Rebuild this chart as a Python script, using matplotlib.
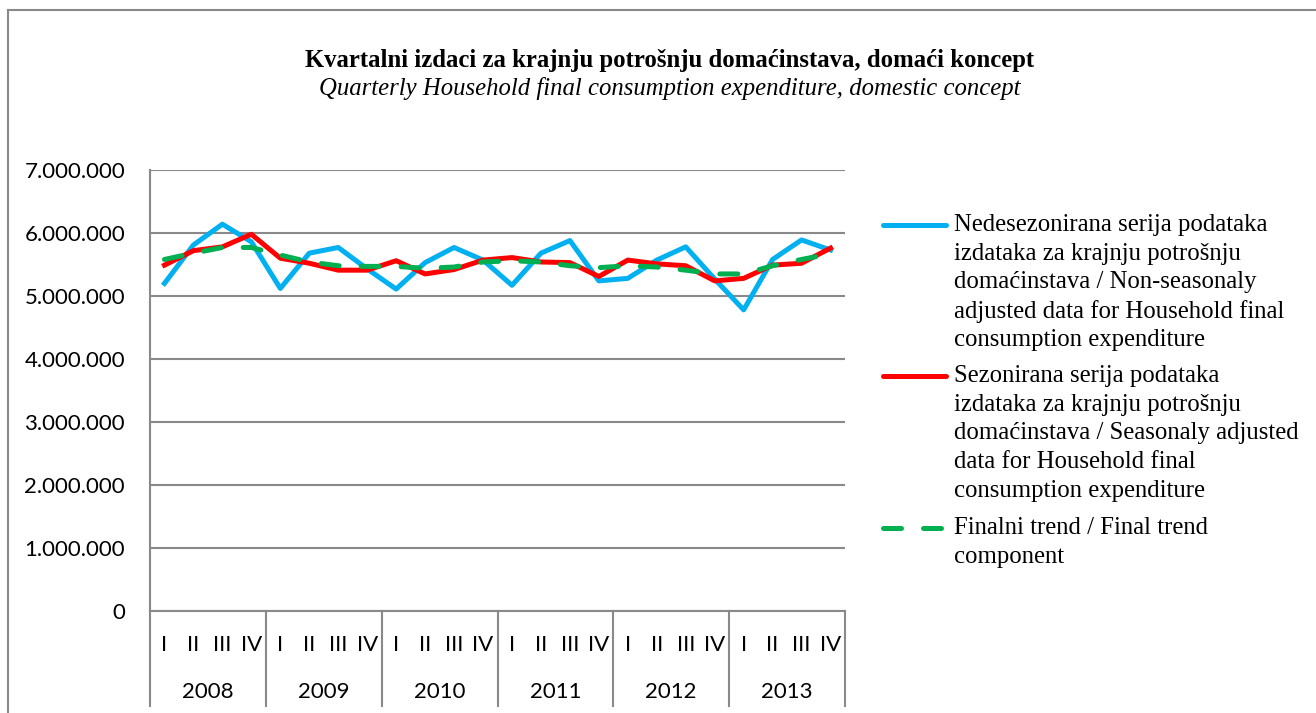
import matplotlib
matplotlib.use("Agg")
import matplotlib.pyplot as plt
from matplotlib.lines import Line2D

# quarterly values
years = ["2008", "2009", "2010", "2011", "2012", "2013"]
quarters = ["I", "II", "III", "IV"]

non_seasonal = [5200000, 5810000, 6140000, 5860000,
                5120000, 5680000, 5770000, 5430000,
                5110000, 5530000, 5770000, 5570000,
                5170000, 5680000, 5880000, 5240000,
                5280000, 5570000, 5780000, 5270000,
                4780000, 5580000, 5890000, 5730000]

seasonal = [5490000, 5720000, 5780000, 5980000,
            5600000, 5520000, 5410000, 5410000,
            5560000, 5350000, 5420000, 5570000,
            5610000, 5540000, 5530000, 5310000,
            5570000, 5510000, 5480000, 5240000,
            5280000, 5490000, 5520000, 5760000]

trend = [5580000, 5680000, 5770000, 5770000,
         5650000, 5540000, 5480000, 5470000,
         5470000, 5440000, 5460000, 5540000,
         5560000, 5540000, 5480000, 5450000,
         5480000, 5460000, 5410000, 5350000,
         5350000, 5480000, 5580000, 5670000]

labels = [["Nedesezonirana serija podataka", "izdataka za krajnju potrošnju",
           "domaćinstava / Non-seasonaly", "adjusted data for Household final",
           "consumption expenditure"],
          ["Sezonirana serija podataka", "izdataka za krajnju potrošnju",
           "domaćinstava / Seasonaly adjusted", "data for Household final",
           "consumption expenditure"],
          ["Finalni trend / Final trend", "component"]]

W, H = 1316, 713
fig = plt.figure(figsize=(W / 100, H / 100), dpi=100)
ax = fig.add_axes([150 / W, (H - 611) / H, 695 / W, 441 / H])

x = list(range(len(non_seasonal)))
grid_c = "#898989"
colors = ["#00B0F0", "#FF0000", "#00B050"]
trend_dash = (3.6, 4.4)

ax.plot(x, non_seasonal, color=colors[0], lw=3.6, solid_joinstyle="round", zorder=3)
ax.plot(x, seasonal, color=colors[1], lw=3.6, solid_joinstyle="round", zorder=4)
ax.plot(x, trend, color=colors[2], lw=3.6, dashes=trend_dash, dash_capstyle="round", zorder=5)

ax.set_xlim(-0.5, len(x) - 0.5)
ax.set_ylim(0, 7000000)
ax.set_yticks(range(0, 7000001, 1000000))
ax.set_yticklabels([f"{v:,}".replace(",", ".") for v in range(0, 7000001, 1000000)],
                   family="Lato", fontsize=16)
ax.tick_params(axis="y", length=0, pad=18)
ax.grid(axis="y", color=grid_c, lw=1.5)
ax.set_axisbelow(True)
for s in ["top", "right"]:
    ax.spines[s].set_visible(False)
ax.spines["left"].set_color(grid_c)
ax.spines["left"].set_linewidth(1.5)
ax.spines["bottom"].set_color(grid_c)
ax.spines["bottom"].set_linewidth(1.5)

# quarter labels + year labels underneath, with group separators
ax.set_xticks(x)
ax.set_xticklabels(quarters * len(years), family="Lato", fontsize=16)
ax.tick_params(axis="x", length=0, pad=17.5)
tr = ax.get_xaxis_transform()
y_bot = -(706 - 611) / 441
for k in range(len(years) + 1):
    ax.add_line(Line2D([k * 4 - 0.5] * 2, [0, y_bot], transform=tr, color=grid_c,
                       lw=1.5, clip_on=False))
for k, yr in enumerate(years):
    ax.text(k * 4 + 1.5, -(692 - 611) / 441, yr, transform=tr, ha="center", va="center",
            family="Lato", fontsize=16)

# titles
fig.text(670 / W, 1 - 60 / H, "Kvartalni izdaci za krajnju potrošnju domaćinstava, domaći koncept",
         ha="center", va="center", family="Liberation Serif", weight="bold", fontsize=17.8)
fig.text(670 / W, 1 - 89 / H, "Quarterly Household final consumption expenditure, domestic concept",
         ha="center", va="center", family="Liberation Serif", style="italic", fontsize=17.8)

# legend: handle beside first line of each wrapped entry
entry_y = [225, 376, 528]
line_step = 28.7
for c, lab, y0 in zip(colors, labels, entry_y):
    yy = 1 - y0 / H
    kw = dict(dashes=trend_dash, dash_capstyle="round") if c == colors[2] else dict(solid_capstyle="round")
    fig.add_artist(Line2D([883 / W, 946 / W], [yy, yy], transform=fig.transFigure,
                          color=c, lw=3.6, **kw))
    for j, s in enumerate(lab):
        fig.text(954 / W, 1 - (y0 + j * line_step) / H, s, ha="left", va="center",
                 family="Liberation Serif", fontsize=17.8)

# outer chart border (left and top visible)
fig.add_artist(Line2D([8 / W, 8 / W], [0, 1 - 10 / H], transform=fig.transFigure, color=grid_c, lw=1.5))
fig.add_artist(Line2D([8 / W, 1], [1 - 10 / H, 1 - 10 / H], transform=fig.transFigure, color=grid_c, lw=1.5))

fig.savefig("out.png", dpi=100)
